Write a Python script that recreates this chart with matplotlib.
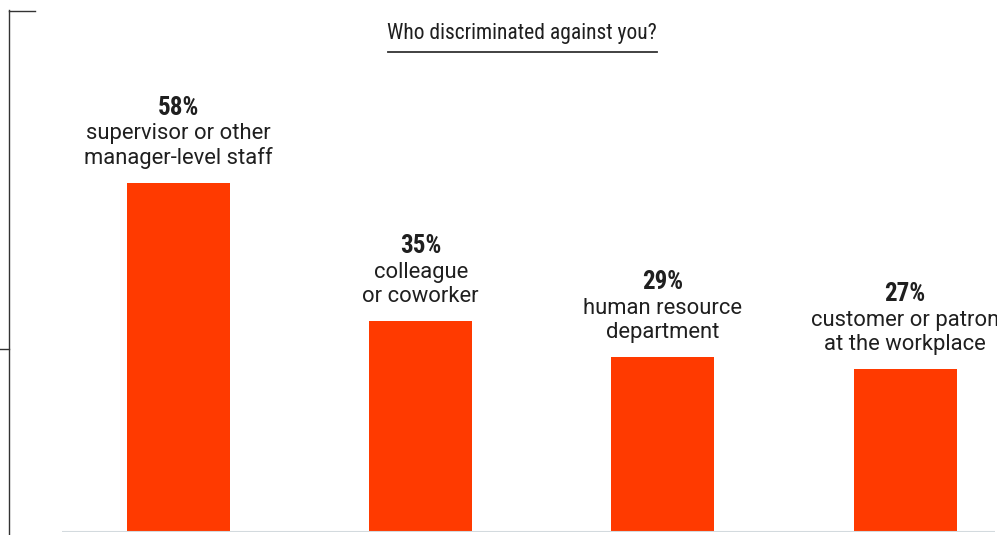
import matplotlib
matplotlib.use("Agg")
import matplotlib.pyplot as plt
from matplotlib.lines import Line2D
from matplotlib import font_manager

categories = [
    ["supervisor or other", "manager-level staff"],
    ["colleague", "or coworker"],
    ["human resource", "department"],
    ["customer or patron", "at the workplace"],
]
values = [58, 35, 29, 27]
title = "Who discriminated against you?"

W, H = 997, 535
fig = plt.figure(figsize=(W / 100, H / 100), dpi=100)
fig.patch.set_facecolor("white")

available = {f.name for f in font_manager.fontManager.ttflist}
narrow = [f for f in ["Liberation Sans Narrow", "Roboto Condensed", "DejaVu Sans Condensed", "DejaVu Sans"] if f in available]
narrow_family = narrow[0] if narrow else "DejaVu Sans"
label_family = "Roboto" if "Roboto" in available else "DejaVu Sans"

# axes placed in pixel terms: baseline at y=532, bar spacing ~242 px
left_px, right_px = 62, 995
base_px, top_px = 532, 50
ax = fig.add_axes([left_px / W, 1 - base_px / H, (right_px - left_px) / W, (base_px - top_px) / H])
ax.set_xlim(-0.481, 3.371)
ax.set_ylim(0, (base_px - top_px) / 6.02)
ax.axis("off")

x = list(range(len(values)))
ax.bar(x, values, width=0.425, color="#ff3a00", zorder=2)
ax.axhline(0, color="#d3dade", lw=1.5, zorder=3)

text_color = "#1f1f1f"
for xi, v, lines in zip(x, values, categories):
    ax.annotate(f"{v}%", (xi, v), xytext=(0, 49), textcoords="offset points",
                ha="center", va="baseline", fontsize=18, fontweight="bold",
                family=narrow_family, color=text_color)
    ax.annotate(lines[0], (xi, v), xytext=(0, 31.5), textcoords="offset points",
                ha="center", va="baseline", fontsize=15.8,
                family=label_family, color=text_color)
    ax.annotate(lines[1], (xi, v), xytext=(0, 13.7), textcoords="offset points",
                ha="center", va="baseline", fontsize=15.8,
                family=label_family, color=text_color)

# title with underline
fig.text(522 / W, 1 - 39 / H, title, ha="center", va="baseline",
         fontsize=15.5, family=narrow_family, color=text_color)
fig.add_artist(Line2D([388 / W, 657 / W], [1 - 52 / H, 1 - 52 / H],
                      color="#333333", lw=1.3))

# left bracket
fig.add_artist(Line2D([8.5 / W, 8.5 / W], [1 - 10 / H, 0], color="#333333", lw=1))
fig.add_artist(Line2D([8.5 / W, 35 / W], [1 - 10.5 / H, 1 - 10.5 / H], color="#333333", lw=1))
fig.add_artist(Line2D([0, 8.5 / W], [1 - 348.5 / H, 1 - 348.5 / H], color="#333333", lw=1))

fig.savefig("out.png", dpi=100, facecolor="white")
